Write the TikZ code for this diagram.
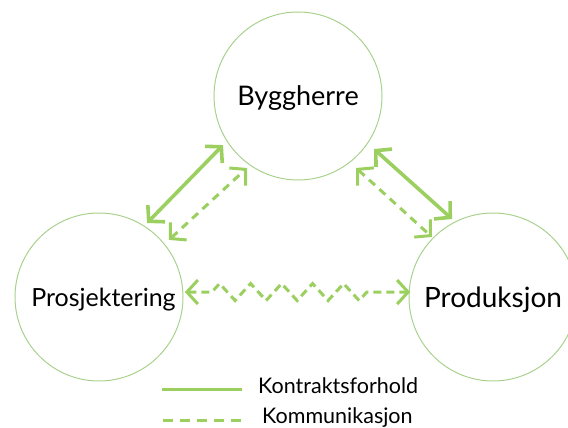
\documentclass[tikz,border=0pt]{standalone}
\usepackage{fontspec}
\setmainfont{Lato}
\usetikzlibrary{arrows.meta,calc,decorations.pathmorphing}
\definecolor{grn}{HTML}{9BCF5F}
\definecolor{grnl}{HTML}{A9D18E}
\tikzset{
  x=1pt,y=1pt,
  barb/.tip={Straight Barb[length=11pt,width=24pt]},
  party/.style={circle,draw=grnl,line width=1pt,minimum size=168pt,inner sep=0pt,outer sep=0pt,text=black,text depth=0pt},
  contract/.style={draw=grn,line width=3.6pt,barb-barb},
  comm/.style={draw=grn,line width=3pt,dash pattern=on 8pt off 6pt,barb-barb},
  legsolid/.style={draw=grn,line width=3pt},
  legdash/.style={draw=grn,line width=3pt,dash pattern=on 10pt off 7pt},
  legtext/.style={anchor=west,inner sep=0pt,font=\fontsize{21.5}{24}\selectfont}
}
\begin{document}
\begin{tikzpicture}
\useasboundingbox (0,0) rectangle (568,428);
\node[party,font=\fontsize{27}{30}\selectfont] (B) at (298,332) {Byggherre};
\node[party,font=\fontsize{25}{28}\selectfont] (P) at (99,131) {\hspace*{9pt}Prosjektering};
\node[party,font=\fontsize{28}{32}\selectfont] (D) at (493,131) {Produksjon};
% Byggherre - Prosjektering
\draw[contract] ($(P.center)+(57:88.2)$) -- ($(B.center)+(213.2:89.6)$);
\draw[comm] ($(P.center)+(39.2:90.3)$) -- ($(B.center)+(234.7:88.2)$);
% Byggherre - Produksjon
\draw[contract] ($(B.center)+(325.1:92.7)$) -- ($(D.center)+(117.7:88.1)$);
\draw[comm] ($(B.center)+(308.9:92.5)$) -- ($(D.center)+(135.5:85.6)$);
% Prosjektering - Produksjon
\draw[comm,dash pattern=on 8pt off 5pt,decorate,decoration={zigzag,segment length=31pt,amplitude=8.5pt,pre length=27pt,post length=33pt}]
  ($(P.center)+(3.3:86)$) -- ($(D.center)+(176.6:83)$);
% Legend
\coordinate (l1a) at (162,38);
\coordinate (l1b) at (242,38);
\coordinate (l2a) at (163,7);
\coordinate (l2b) at (241,7);
\draw[legsolid] (l1a) -- (l1b);
\draw[legdash] (l2a) -- (l2b);
\node[legtext] (t1) at (258,42) {Kontraktsforhold};
\node[legtext] (t2) at (262,10) {Kommunikasjon};
\end{tikzpicture}
\end{document}
